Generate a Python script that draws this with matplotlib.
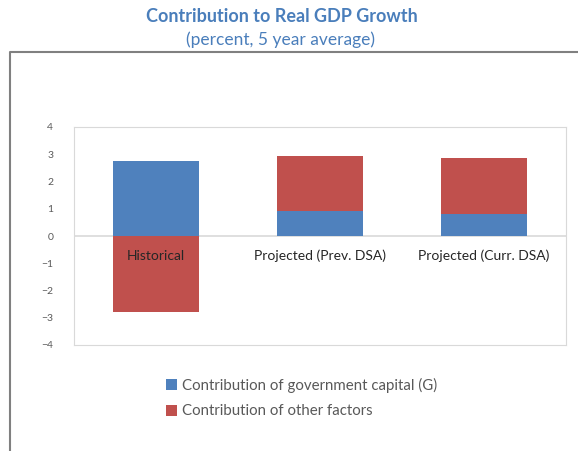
import matplotlib.pyplot as plt
import numpy as np
from matplotlib.lines import Line2D

plt.rcParams['font.family'] = ['Lato', 'DejaVu Sans']

# Data
categories = ['Historical', 'Projected (Prev. DSA)', 'Projected (Curr. DSA)']
gov_capital = [2.77, 0.93, 0.82]
other_factors = [-2.8, 2.02, 2.06]
series_names = ['Contribution of government capital (G)', 'Contribution of other factors']

blue = '#4F81BD'
red = '#C0504D'

W, H = 578, 451
fig = plt.figure(figsize=(W / 100, H / 100), dpi=100)

# axes placed in pixel terms
ax = fig.add_axes([74 / W, 1 - 345 / H, (566 - 74) / W, (345 - 127) / H])

x = np.arange(len(categories))
gov = np.array(gov_capital)
oth = np.array(other_factors)
# stack: positive values on top of positive base, negatives below zero
oth_base = np.where(oth >= 0, np.where(gov > 0, gov, 0), np.where(gov < 0, gov, 0))
ax.bar(x, gov, 0.52, color=blue, label=series_names[0], zorder=3)
ax.bar(x, oth, 0.52, bottom=oth_base, color=red, label=series_names[1], zorder=3)

ax.set_xlim(-0.5, 2.5)
ax.set_ylim(-4, 4)
ax.set_yticks(range(-4, 5))
ax.set_xticks([])
ax.tick_params(axis='y', length=0, labelsize=7.5, labelcolor='#595959', pad=15)
for s in ax.spines.values():
    s.set_color('#d9d9d9')
    s.set_linewidth(0.8)
ax.axhline(0, color='#d9d9d9', linewidth=1.2, zorder=2)

# category labels sit just under the zero line
for i, c in enumerate(categories):
    ax.text(i, -0.72, c, ha='center', va='center', fontsize=10, color='#262626', zorder=4)

# titles
fig.text(282 / W, 1 - 17 / H, 'Contribution to Real GDP Growth', ha='center', va='center',
         fontsize=13, fontweight='bold', color='#4A7EBB')
fig.text(280 / W, 1 - 40 / H, '(percent, 5 year average)', ha='center', va='center',
         fontsize=12.5, color='#4A7EBB')

# outer frame (top and left only visible)
fig.add_artist(Line2D([10 / W, 10 / W, 1.0], [0.0, 1 - 52 / H, 1 - 52 / H],
                      transform=fig.transFigure, color='#808080', linewidth=1.5))

# legend
leg = fig.legend(loc='upper left', bbox_to_anchor=(160 / W, 1 - 372 / H), frameon=False,
                 fontsize=10.8, handlelength=0.75, handleheight=0.75, handletextpad=0.35,
                 labelspacing=0.75, borderaxespad=0)
for t in leg.get_texts():
    t.set_color('#595959')

plt.savefig('out.png', dpi=100)
